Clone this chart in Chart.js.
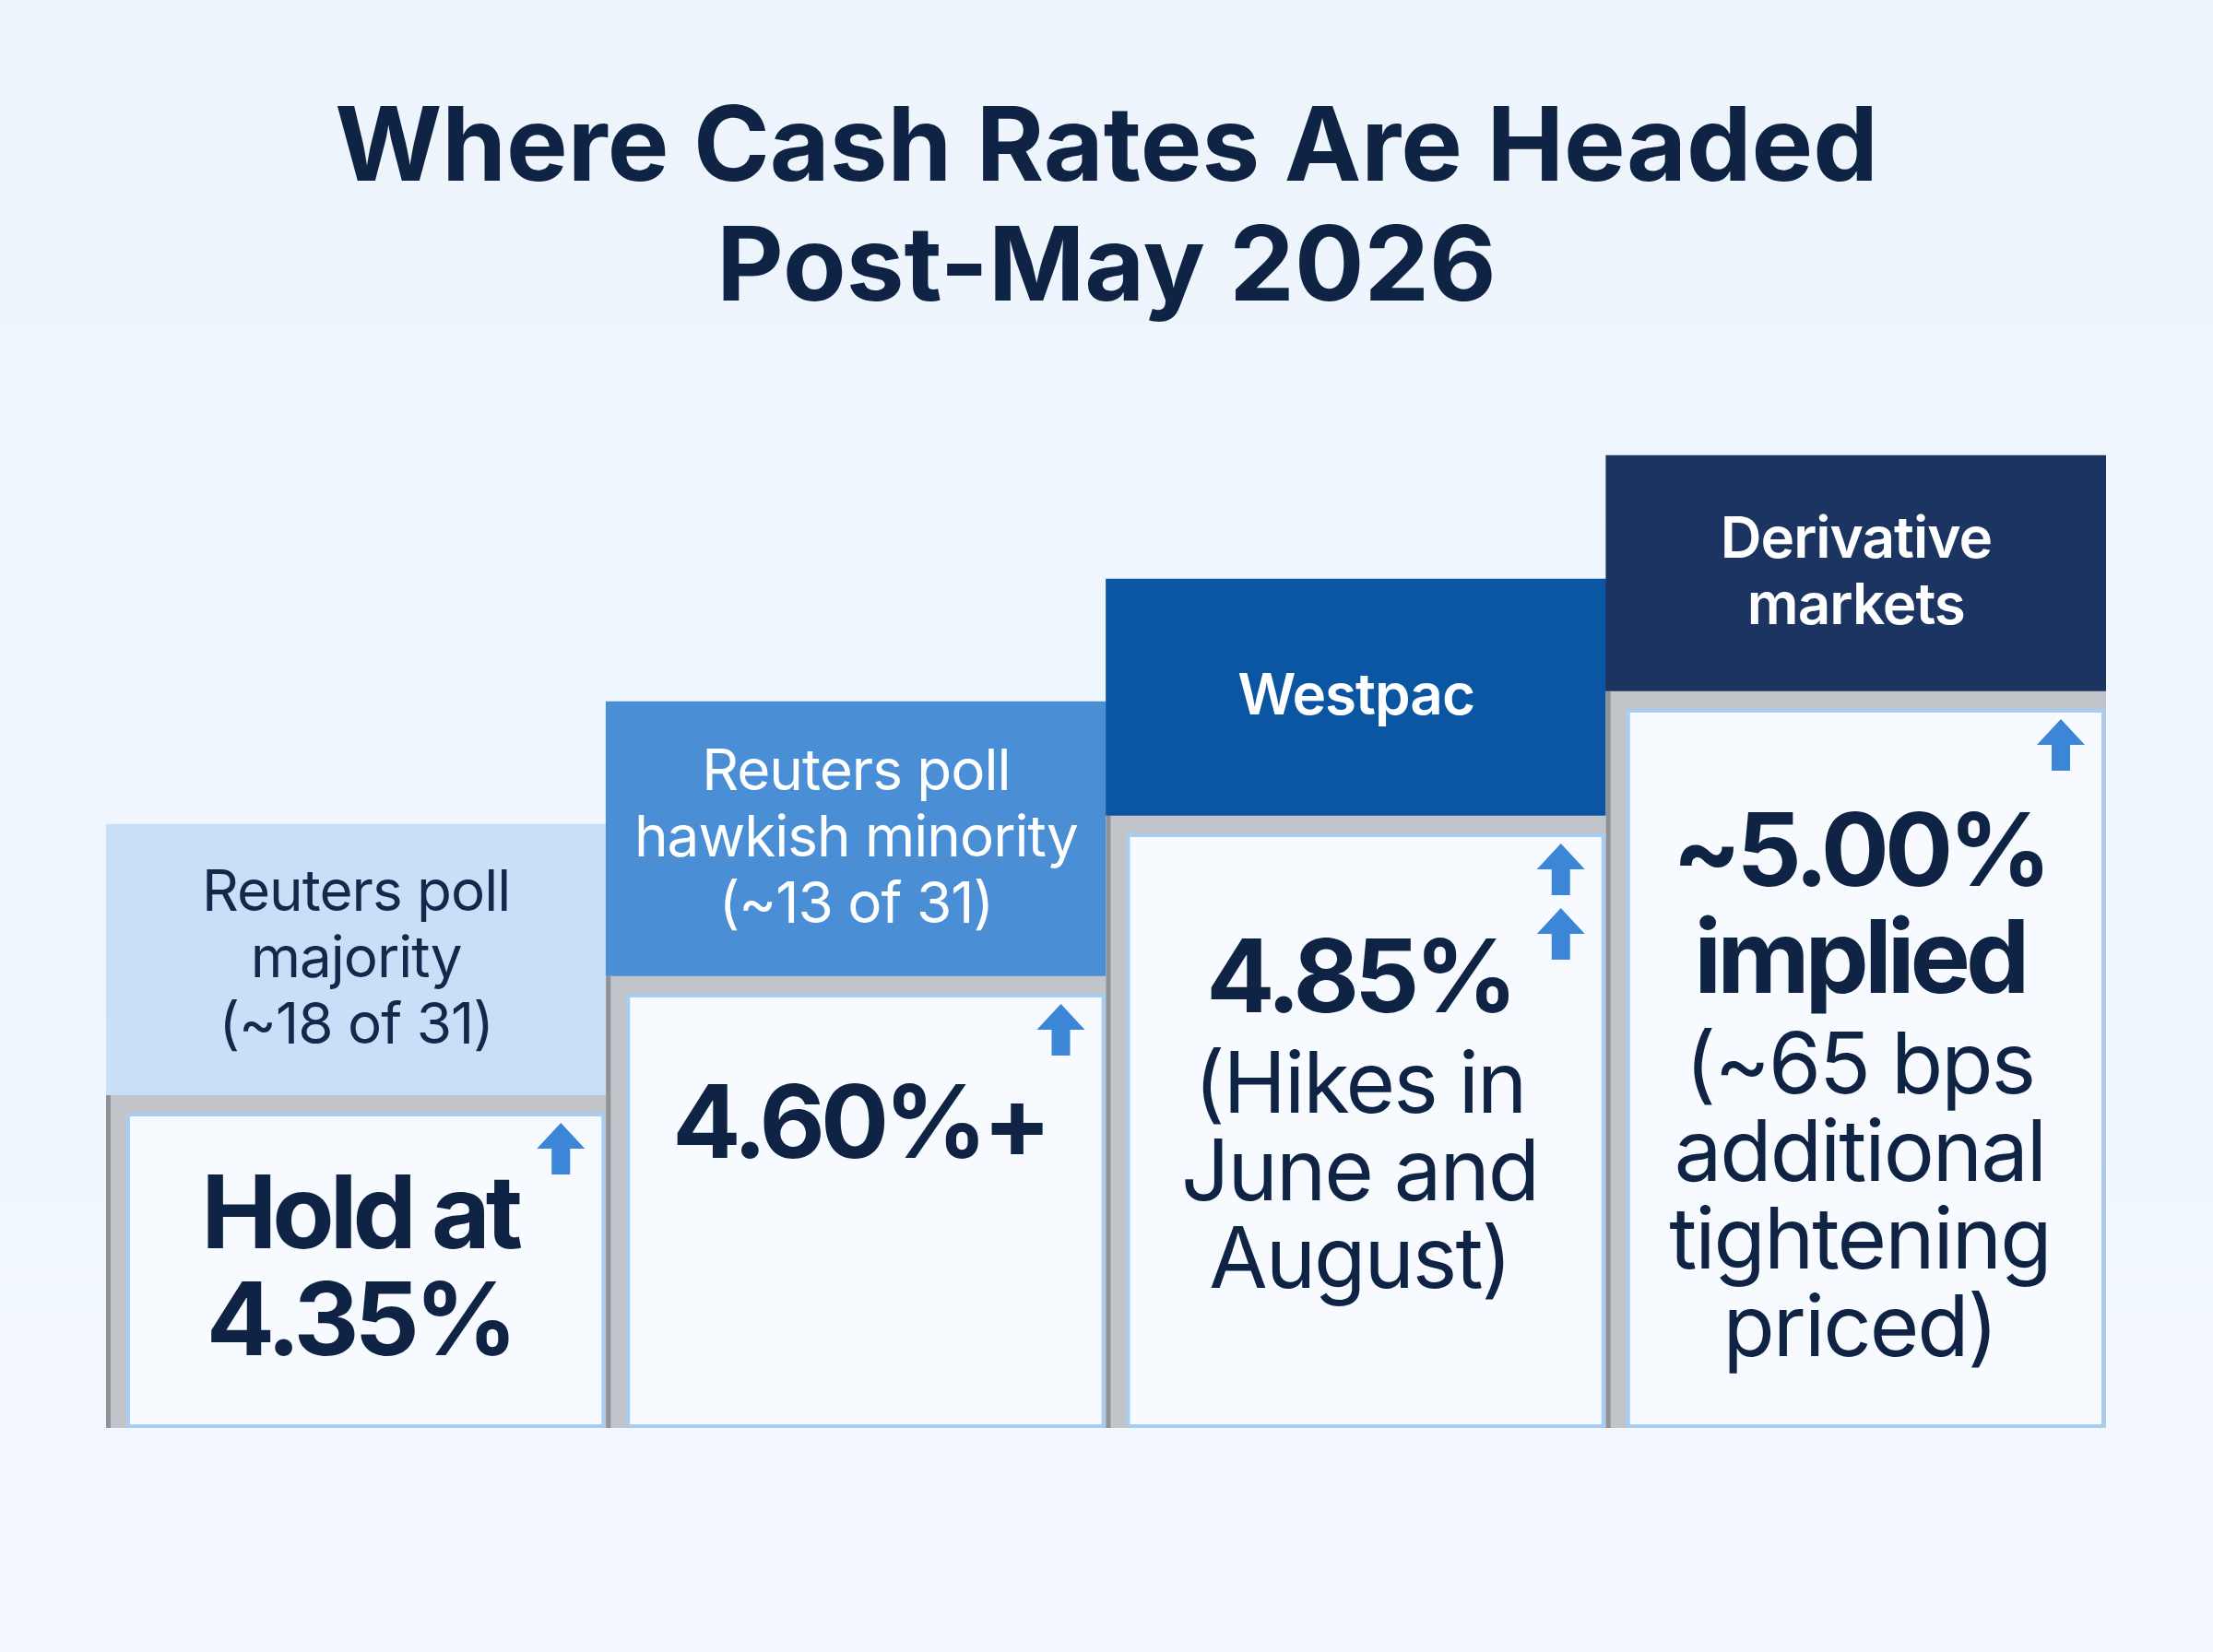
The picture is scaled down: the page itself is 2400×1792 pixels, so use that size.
<!DOCTYPE html>
<html>
<head>
<meta charset="utf-8">
<script src="https://cdn.jsdelivr.net/npm/chart.js@4"></script>
<style>
  html, body { margin: 0; padding: 0; background: #eef5fc; }
  canvas { display: block; }
</style>
</head>
<body>
<canvas id="steps" width="2400" height="1792"></canvas>
<script>
// step levels (arbitrary height units, taller step = higher expected rate)
const categories = ["Reuters poll majority", "Reuters poll hawkish minority", "Westpac", "Derivative markets"];
const bodyLevels = [361, 490, 664, 799];
const headerLevels = [294, 298, 257, 256];

const headerLines = [
  ["Reuters poll", "majority", "(~18 of 31)"],
  ["Reuters poll", "hawkish minority", "(~13 of 31)"],
  ["Westpac"],
  ["Derivative", "markets"]
];
const bigLines = [
  ["Hold at", "4.35%"],
  ["4.60%+"],
  ["4.85%"],
  ["~5.00%", "implied"]
];
const noteLines = [
  [],
  [],
  ["(Hikes in", "June and", "August)"],
  ["(~65 bps", "additional", "tightening", "priced)"]
];
const arrowCounts = [1, 1, 2, 1];

const headerColors = ["#c8e0f7", "#4a8fd6", "#0a56a3", "#1c3461"];
const headerText = ["#13284a", "#ffffff", "#ffffff", "#ffffff"];
const FONT = "Inter, 'Noto Sans', sans-serif";

const decor = {
  id: "decor",
  beforeDraw(chart) {
    const ctx = chart.ctx;
    const g = ctx.createLinearGradient(0, 0, 0, chart.height);
    g.addColorStop(0, "#edf4fb");
    g.addColorStop(1, "#f2f8fe");
    ctx.save();
    ctx.fillStyle = g;
    ctx.fillRect(0, 0, chart.width, chart.height);
    ctx.fillStyle = "#0f2444";
    ctx.textAlign = "center";
    ctx.textBaseline = "middle";
    ctx.font = "700 112px " + FONT;
    ctx.fillText("Where Cash Rates Are Headed", 1200, 162);
    ctx.fillText("Post-May 2026", 1200, 292);
    ctx.restore();
  },
  afterDatasetsDraw(chart) {
    const ctx = chart.ctx;
    const bodies = chart.getDatasetMeta(0).data;
    const heads = chart.getDatasetMeta(1).data;
    ctx.save();
    bodies.forEach((b, i) => {
      const left = b.x - b.width / 2, right = b.x + b.width / 2;
      const top = b.y, bottom = b.base;
      ctx.fillStyle = "#8f9398";
      ctx.fillRect(left, top, 5, bottom - top);
      const cx0 = left + 24, cy0 = top + 21;
      ctx.fillStyle = "#f7fbff";
      ctx.fillRect(cx0, cy0, right - cx0 - 3, bottom - cy0);
      ctx.strokeStyle = "#a8cdf1";
      ctx.lineWidth = 4;
      ctx.strokeRect(cx0, cy0, right - cx0 - 3, bottom - cy0 - 2);
      const cx = (cx0 + right) / 2;

      for (let k = 0; k < arrowCounts[i]; k++) {
        const ax = right - 49, ay = cy0 + 37 + k * 70;
        ctx.fillStyle = "#3b86d6";
        ctx.beginPath();
        ctx.moveTo(ax, ay - 28);
        ctx.lineTo(ax + 26, ay);
        ctx.lineTo(ax + 10, ay);
        ctx.lineTo(ax + 10, ay + 28);
        ctx.lineTo(ax - 10, ay + 28);
        ctx.lineTo(ax - 10, ay);
        ctx.lineTo(ax - 26, ay);
        ctx.closePath();
        ctx.fill();
      }

      ctx.textAlign = "center";
      ctx.textBaseline = "middle";
      const h = heads[i];
      const hLines = headerLines[i];
      const bold = i >= 2;
      ctx.letterSpacing = "-1px";
      ctx.font = (bold ? "600 " : "400 ") + "62px " + FONT;
      ctx.fillStyle = headerText[i];
      const hMid = (h.y + h.base) / 2;
      hLines.forEach((t, j) => {
        ctx.fillText(t, h.x, hMid + (j - (hLines.length - 1) / 2) * 72);
      });

      ctx.fillStyle = "#0f2444";
      ctx.letterSpacing = "-5px";
      ctx.font = "700 110px " + FONT;
      const startY = [cy0 + 112, cy0 + 143, cy0 + 159, cy0 + 157][i];
      bigLines[i].forEach((t, j) => ctx.fillText(t, cx - 8, startY + j * 116));
      ctx.letterSpacing = "-2px";
      ctx.font = "400 92px " + FONT;
      const noteY = startY + (bigLines[i].length - 1) * 116 + 114;
      noteLines[i].forEach((t, j) => ctx.fillText(t, cx - 8, noteY + j * 95));
    });
    ctx.restore();
  }
};

new Chart(document.getElementById("steps"), {
  type: "bar",
  data: {
    labels: categories,
    datasets: [
      { data: bodyLevels, backgroundColor: "#c1c5ca", borderWidth: 0, stack: "s" },
      { data: headerLevels, backgroundColor: headerColors, borderWidth: 0, stack: "s" }
    ]
  },
  options: {
    responsive: false,
    devicePixelRatio: 1,
    animation: false,
    layout: { padding: { left: 115, right: 116, top: 300, bottom: 243 } },
    datasets: { bar: { categoryPercentage: 1, barPercentage: 1 } },
    scales: {
      x: { display: false, stacked: true },
      y: { display: false, stacked: true, min: 0, max: 1249 }
    },
    plugins: { legend: { display: false }, tooltip: { enabled: false } }
  },
  plugins: [decor]
});
</script>
</body>
</html>
